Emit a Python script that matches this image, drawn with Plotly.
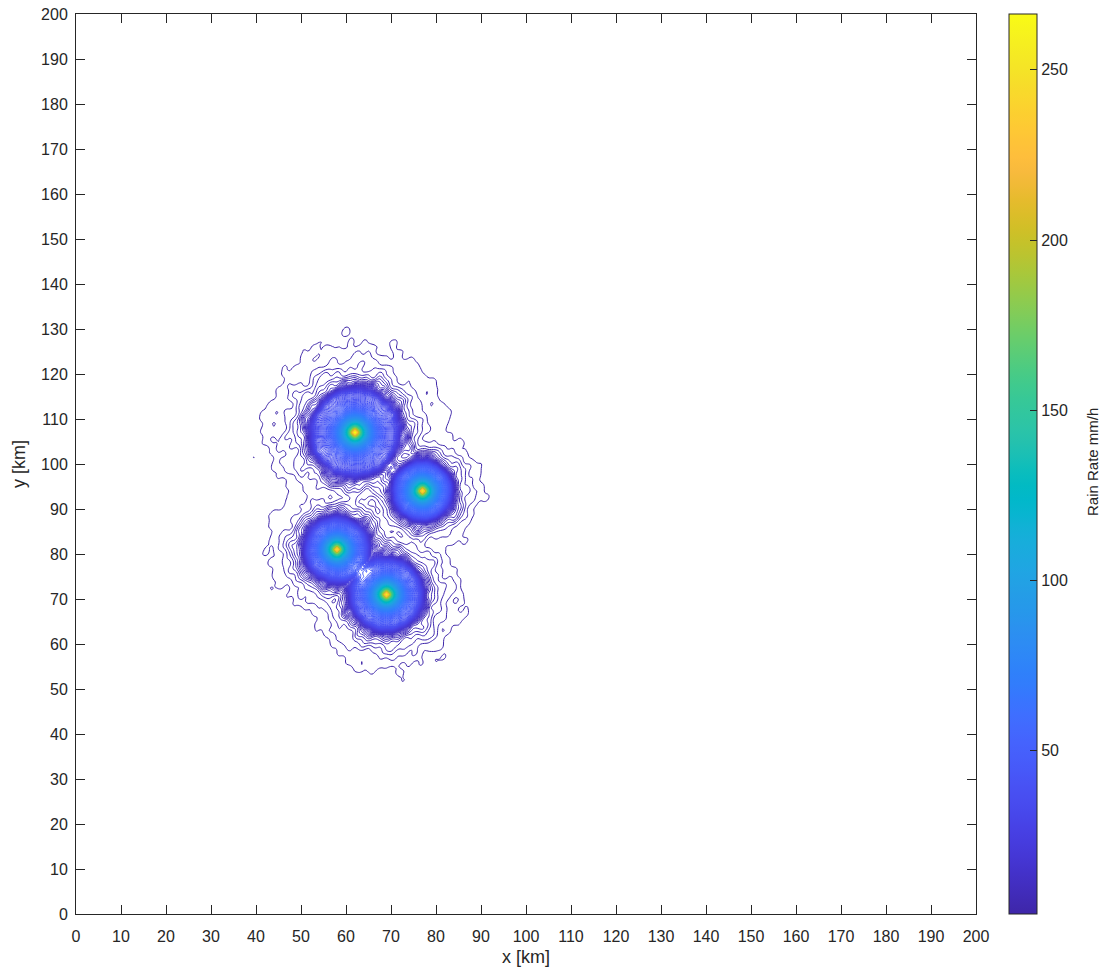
import numpy as np
import plotly.graph_objects as go

# Rain cells: centre position [km], peak rate [mm/h], convective core radius [km]
cell_x = [62.0, 77.0, 58.0, 69.0]
cell_y = [107.0, 94.0, 81.0, 71.0]
cell_peak = [266.0, 250.0, 245.0, 255.0]
cell_core_radius = [9.5, 6.3, 6.9, 7.8]
# Transition band just outside each core: rate [mm/h], e-folding distance [km]
cell_band_rate = [14.0, 14.0, 14.0, 14.0]
cell_band_decay = [1.6, 1.3, 1.4, 1.5]
# Stratiform halo: rate at the core edge [mm/h], e-folding distance [km]
cell_halo_rate = [6.0, 6.0, 6.0, 6.0]
cell_halo_decay = [12.8, 8.4, 10.2, 10.8]

# Core profile R = P / (1 + (r/a)^p)
profile_scale_km = 1.46
profile_exponent = 1.18
edge_width_km = 0.3

# Variability of band and halo (wave vectors in rad/km)
wave_kx = [0.62, -0.48, 0.95, 0.30, -0.85, 1.25, 2.10, -1.90, 0.70, 2.60]
wave_ky = [0.35, 0.80, -0.50, 1.10, -0.70, 0.45, 0.90, 1.60, -2.30, -1.20]
wave_amp = [0.10, 0.09, 0.08, 0.07, 0.06, 0.05, 0.05, 0.05, 0.045, 0.04]
wave_phase = [0.3, 1.7, 2.9, 4.1, 5.2, 0.9, 3.6, 2.2, 5.9, 1.1]

# Contour levels and colour limits [mm/h]
level_start, level_end, level_step = 2.64, 266.0, 1.0
c_min, c_max = 2.1, 266.4

x_ticks = list(range(0, 201, 10))
y_ticks = list(range(0, 201, 10))
cbar_ticks = [50, 100, 150, 200, 250]

# MATLAB parula colormap (64 entries)
parula = [
    (0.2422, 0.1504, 0.6603), (0.2504, 0.1650, 0.7076), (0.2578, 0.1818, 0.7511),
    (0.2647, 0.1978, 0.7952), (0.2706, 0.2147, 0.8364), (0.2751, 0.2342, 0.8710),
    (0.2783, 0.2559, 0.8991), (0.2803, 0.2782, 0.9221), (0.2813, 0.3006, 0.9414),
    (0.2810, 0.3228, 0.9579), (0.2795, 0.3447, 0.9717), (0.2760, 0.3667, 0.9829),
    (0.2699, 0.3892, 0.9906), (0.2602, 0.4123, 0.9952), (0.2440, 0.4358, 0.9988),
    (0.2206, 0.4603, 0.9973), (0.1963, 0.4847, 0.9892), (0.1834, 0.5074, 0.9798),
    (0.1786, 0.5289, 0.9682), (0.1764, 0.5499, 0.9520), (0.1687, 0.5703, 0.9359),
    (0.1540, 0.5902, 0.9218), (0.1460, 0.6091, 0.9079), (0.1380, 0.6276, 0.8973),
    (0.1248, 0.6459, 0.8883), (0.1113, 0.6635, 0.8763), (0.0952, 0.6798, 0.8598),
    (0.0689, 0.6948, 0.8394), (0.0297, 0.7082, 0.8163), (0.0036, 0.7203, 0.7917),
    (0.0067, 0.7312, 0.7660), (0.0433, 0.7411, 0.7394), (0.0964, 0.7500, 0.7120),
    (0.1408, 0.7584, 0.6842), (0.1717, 0.7670, 0.6554), (0.1938, 0.7758, 0.6251),
    (0.2161, 0.7843, 0.5923), (0.2470, 0.7918, 0.5567), (0.2906, 0.7973, 0.5188),
    (0.3406, 0.8008, 0.4789), (0.3909, 0.8029, 0.4354), (0.4456, 0.8024, 0.3909),
    (0.5044, 0.7993, 0.3480), (0.5616, 0.7942, 0.3045), (0.6174, 0.7876, 0.2612),
    (0.6720, 0.7793, 0.2227), (0.7242, 0.7698, 0.1910), (0.7738, 0.7598, 0.1646),
    (0.8203, 0.7498, 0.1535), (0.8634, 0.7406, 0.1596), (0.9035, 0.7330, 0.1774),
    (0.9393, 0.7288, 0.2100), (0.9728, 0.7298, 0.2394), (0.9956, 0.7434, 0.2371),
    (0.9970, 0.7659, 0.2199), (0.9952, 0.7893, 0.2028), (0.9892, 0.8136, 0.1885),
    (0.9786, 0.8386, 0.1766), (0.9676, 0.8639, 0.1643), (0.9610, 0.8890, 0.1537),
    (0.9597, 0.9135, 0.1423), (0.9628, 0.9373, 0.1265), (0.9691, 0.9606, 0.1064),
    (0.9769, 0.9839, 0.0805),
]
colorscale = [
    [i / (len(parula) - 1), "rgb({:.0f},{:.0f},{:.0f})".format(r * 255, g * 255, b * 255)]
    for i, (r, g, b) in enumerate(parula)
]

# Rain-rate field on a 0.5 km grid
gx = np.arange(30.0, 100.01, 0.5)
gy = np.arange(45.0, 135.01, 0.5)
X, Y = np.meshgrid(gx, gy)

texture = np.zeros_like(X)
for kx, ky, a, ph in zip(wave_kx, wave_ky, wave_amp, wave_phase):
    texture += a * np.sin(kx * X + ky * Y + ph)

convective = np.zeros_like(X)
stratiform = np.zeros_like(X)
for cx, cy, pk, rc, br, bd, hr, hd in zip(cell_x, cell_y, cell_peak, cell_core_radius,
                                          cell_band_rate, cell_band_decay,
                                          cell_halo_rate, cell_halo_decay):
    r = np.hypot(X - cx, Y - cy)
    core = pk / (1.0 + (r / profile_scale_km) ** profile_exponent)
    inside = 1.0 / (1.0 + np.exp((r - rc) / edge_width_km))
    d = np.maximum(r - rc, 0.0)
    band = br * np.exp(-d / bd) * np.exp(1.2 * texture)
    convective += core * inside + band * (1.0 - inside)
    halo = hr * np.exp(-d / hd) * np.exp(0.6 * texture)
    stratiform = np.maximum(stratiform, halo)
Z = convective + stratiform

ink = "#262626"
font_family = "Liberation Sans, Arial, Helvetica, sans-serif"

fig = go.Figure()
fig.add_trace(go.Contour(
    x=gx, y=gy, z=Z,
    contours=dict(coloring="lines", start=level_start, end=level_end, size=level_step),
    line=dict(width=1.0),
    colorscale=colorscale, zmin=c_min, zmax=c_max, zauto=False,
    showscale=False, hoverinfo="skip",
))
# Colour scale legend for the rain rate
fig.add_trace(go.Scatter(
    x=[gx[0]], y=[gy[0]], mode="markers", hoverinfo="skip", showlegend=False,
    marker=dict(
        size=1, opacity=0, color=[c_min], colorscale=colorscale, cmin=c_min, cmax=c_max,
        showscale=True,
        colorbar=dict(
            x=(1009 - 76) / 900, xanchor="left", xref="paper",
            y=0.5, yanchor="middle", len=1.0, lenmode="fraction",
            thickness=28, xpad=0, ypad=0, outlinewidth=1, outlinecolor=ink,
            ticks="inside", ticklen=7, tickcolor=ink, tickwidth=1,
            tickvals=cbar_ticks, tickfont=dict(size=16, color=ink, family=font_family),
        ),
    ),
))

axis_common = dict(
    range=[0, 200], tickmode="array", ticks="inside", ticklen=9, tickwidth=1,
    tickcolor=ink, showline=True, linecolor=ink, linewidth=1, mirror="ticks",
    showgrid=False, zeroline=False,
    tickfont=dict(size=16, color=ink, family=font_family),
)
fig.update_layout(
    width=1100, height=976,
    margin=dict(l=76, r=124, t=14, b=62, autoexpand=False),
    paper_bgcolor="white", plot_bgcolor="white",
    showlegend=False,
    font=dict(family=font_family, color=ink),
    xaxis=dict(axis_common, tickvals=x_ticks, ticklabelstandoff=8,
               title=dict(text="x [km]", font=dict(size=18, color=ink), standoff=6)),
    yaxis=dict(axis_common, tickvals=y_ticks, ticklabelstandoff=4,
               title=dict(text="y [km]", font=dict(size=18, color=ink), standoff=10)),
    annotations=[dict(
        text="Rain Rate mm/h", textangle=-90, showarrow=False,
        xref="paper", yref="paper", x=(1092 - 76) / 900, y=(914 - 462) / 900,
        xanchor="center", yanchor="middle",
        font=dict(size=15, color=ink, family=font_family),
    )],
)

fig.write_html("out.html")
